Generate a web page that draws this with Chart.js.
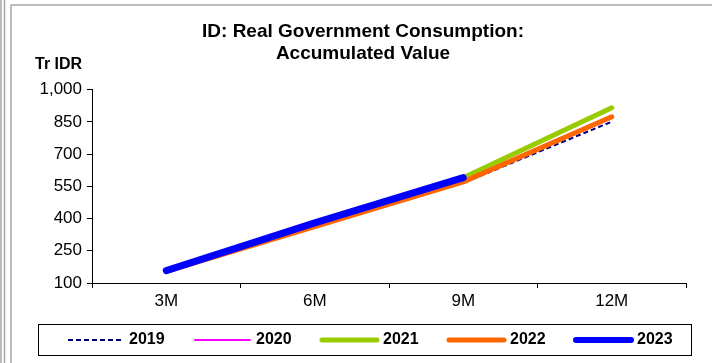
<!DOCTYPE html>
<html><head><meta charset="utf-8">
<script src="https://cdn.jsdelivr.net/npm/chart.js@4"></script>
<style>html,body{margin:0;padding:0;background:#fff}#wrap{width:712px;height:363px;position:relative}</style>
</head><body><div id="wrap"><canvas id="c" width="712" height="363"></canvas></div>
<script>
const categories = ['3M', '6M', '9M', '12M'];
const seriesLabels = ['2019', '2020', '2021', '2022', '2023'];
const values2019 = [152, 360, 566, 851];
const values2020 = [153, 362, 570, 868];
const values2021 = [155, 374, 590, 916];
const values2022 = [154, 362, 571, 874];
const values2023 = [158, 380, 591, null];
const yTicks = [100, 250, 400, 550, 700, 850, 1000];
const titleLines = ['ID: Real Government Consumption:', 'Accumulated Value'];
const unitLabel = 'Tr IDR';

Chart.defaults.font.family = '"Liberation Sans", Arial, sans-serif';
Chart.defaults.color = '#000';

const styles = [
  {color: '#000080', width: 2, dash: [5, 3], cap: 'butt', order: 3, legendWidth: 2},
  {color: '#FF00FF', width: 2, dash: [], cap: 'round', order: 4, legendWidth: 2},
  {color: '#99CC00', width: 5, dash: [], cap: 'round', order: 2, legendWidth: 5},
  {color: '#FF6600', width: 5, dash: [], cap: 'round', order: 1, legendWidth: 5},
  {color: '#0000FF', width: 7, dash: [], cap: 'round', order: 0, legendWidth: 6}
];
const allValues = [values2019, values2020, values2021, values2022, values2023];

const datasets = allValues.map((vals, i) => ({
  label: seriesLabels[i],
  data: vals,
  borderColor: styles[i].color,
  backgroundColor: styles[i].color,
  borderWidth: styles[i].width,
  borderDash: styles[i].dash,
  borderCapStyle: styles[i].cap,
  borderJoinStyle: 'round',
  pointRadius: 0,
  pointHoverRadius: 0,
  tension: 0,
  fill: false,
  order: styles[i].order,
  legendWidth: styles[i].legendWidth
}));

// legend box layout
const LEGEND = {left: 38, right: 691, top: 324, bottom: 355, firstX: 68, stride: 127, lineLen: 55, textGap: 6};

const decor = {
  id: 'decor',
  beforeDraw(chart) {
    const ctx = chart.ctx;
    ctx.save();
    ctx.fillStyle = '#fff';
    ctx.fillRect(0, 0, chart.width, chart.height);
    ctx.strokeStyle = '#a6a6a6';
    ctx.lineWidth = 1.5;
    ctx.beginPath();
    ctx.moveTo(1, 0); ctx.lineTo(1, chart.height);
    ctx.moveTo(4.5, 0); ctx.lineTo(4.5, chart.height);
    ctx.moveTo(11, 4.5); ctx.lineTo(11, chart.height);
    ctx.moveTo(11, 5); ctx.lineTo(chart.width, 5);
    ctx.stroke();
    ctx.restore();
  },
  afterDraw(chart) {
    const ctx = chart.ctx;
    ctx.save();
    ctx.font = 'bold 16px "Liberation Sans", Arial, sans-serif';
    ctx.fillStyle = '#000';
    ctx.textAlign = 'left';
    ctx.textBaseline = 'middle';
    ctx.fillText(unitLabel, 35, 65);

    // legend
    ctx.strokeStyle = '#000';
    ctx.lineWidth = 1;
    ctx.strokeRect(LEGEND.left + 0.5, LEGEND.top + 0.5, LEGEND.right - LEGEND.left, LEGEND.bottom - LEGEND.top);
    const cy = (LEGEND.top + LEGEND.bottom) / 2 + 0.5;
    chart.data.datasets.forEach((ds, i) => {
      const x = LEGEND.firstX + i * LEGEND.stride;
      ctx.save();
      ctx.strokeStyle = ds.borderColor;
      ctx.lineWidth = ds.legendWidth;
      ctx.lineCap = ds.borderCapStyle;
      ctx.setLineDash(ds.borderDash || []);
      ctx.beginPath();
      ctx.moveTo(x, Math.round(cy));
      ctx.lineTo(x + LEGEND.lineLen, Math.round(cy));
      ctx.stroke();
      ctx.restore();
      ctx.fillStyle = '#000';
      ctx.font = 'bold 16px "Liberation Sans", Arial, sans-serif';
      ctx.textBaseline = 'middle';
      ctx.fillText(ds.label, x + LEGEND.lineLen + LEGEND.textGap, cy);
    });
    ctx.restore();
  }
};

new Chart(document.getElementById('c'), {
  type: 'line',
  data: {labels: categories, datasets},
  options: {
    responsive: false,
    animation: false,
    devicePixelRatio: 1,
    layout: {padding: {left: 40, right: 26, top: 0, bottom: 0}},
    plugins: {
      tooltip: {enabled: false},
      legend: {display: false},
      title: {
        display: true,
        text: titleLines,
        color: '#000',
        font: {size: 19, weight: 'bold', lineHeight: 1.15},
        padding: {top: 21, bottom: 25}
      }
    },
    scales: {
      x: {
        offset: true,
        grid: {offset: true, drawOnChartArea: false, tickLength: 5, color: '#000', tickColor: '#000'},
        border: {color: '#000', width: 1},
        ticks: {color: '#000', font: {size: 17}, padding: 3, maxRotation: 0},
        afterFit(s) { s.height = 80; }
      },
      y: {
        min: 100,
        max: 1000,
        afterBuildTicks(s) { s.ticks = yTicks.map(v => ({value: v})); },
        grid: {drawOnChartArea: false, tickLength: 5, color: '#000', tickColor: '#000'},
        border: {color: '#000', width: 1},
        ticks: {color: '#000', font: {size: 17}, padding: 5},
        afterFit(s) { s.width = 52; }
      }
    }
  },
  plugins: [decor]
});
</script></body></html>
